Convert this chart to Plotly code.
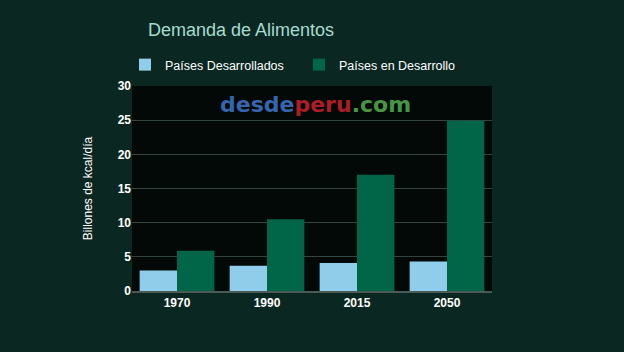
import plotly.graph_objects as go

years = ["1970", "1990", "2015", "2050"]
desarrollados = [3.0, 3.7, 4.1, 4.3]
en_desarrollo = [5.9, 10.5, 17.0, 24.9]
y_ticks = [0, 5, 10, 15, 20, 25, 30]

fig = go.Figure()
fig.add_trace(go.Bar(x=years, y=desarrollados, name="Países Desarrollados",
                     marker=dict(color="#8fcdea", line=dict(width=0)), legend="legend"))
fig.add_trace(go.Bar(x=years, y=en_desarrollo, name="Países en Desarrollo",
                     marker=dict(color="#006647", line=dict(width=0)), legend="legend2"))

leg_common = dict(orientation="h", xanchor="left", yanchor="middle", xref="paper",
                  yref="paper", bgcolor="rgba(0,0,0,0)",
                  font=dict(size=12.5, color="white"))
leg_y = (291 - 65) / 205

fig.update_layout(
    width=624, height=352,
    margin=dict(l=132, r=132, t=86, b=61, autoexpand=False),
    paper_bgcolor="#0b2721",
    plot_bgcolor="#030907",
    barmode="group",
    bargap=0.17,
    bargroupgap=0.0,
    font=dict(family="Liberation Sans, Arial, sans-serif", color="white", size=12),
    title=dict(text="Demanda de Alimentos", x=148/624, xanchor="left",
               y=1-30/352, yanchor="middle",
               font=dict(size=18, color="#a6dccf")),
    legend=dict(x=(125-132)/360, y=leg_y, **leg_common),
    legend2=dict(x=(299-132)/360, y=leg_y, **leg_common),
    showlegend=True,
)
fig.update_xaxes(showgrid=False, showline=True, linecolor="#4a5a55", linewidth=2,
                 tickfont=dict(size=12, color="white", weight="bold"), ticks="")
fig.update_yaxes(range=[0, 30], tickvals=y_ticks, showgrid=True, gridcolor="#36443f",
                 gridwidth=1, zeroline=False,
                 tickfont=dict(size=12, color="white", weight="bold"),
                 title=dict(text="Billones de kcal/día", font=dict(size=12, color="white"), standoff=22))

fig.add_annotation(
    text="<b><span style='color:#3d6fc0'>desde</span><span style='color:#c0202c'>peru</span><span style='color:#4ea64a'>.com</span></b>",
    xref="paper", yref="paper", x=(315-132)/360, y=(291-104)/205,
    xanchor="center", yanchor="middle",
    showarrow=False, font=dict(size=22, family="DejaVu Sans, Arial, sans-serif"),
    opacity=0.9,
)

fig.write_html("out.html")
